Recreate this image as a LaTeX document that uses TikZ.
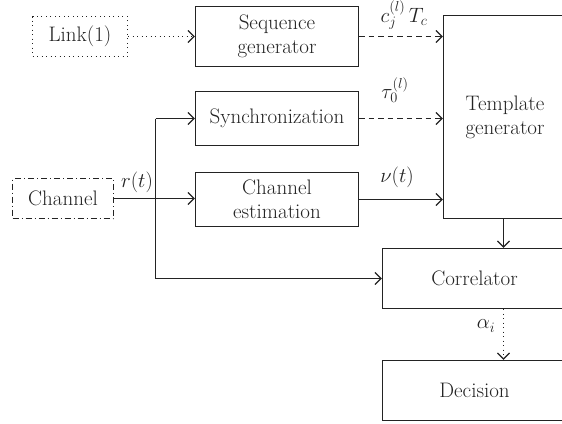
\documentclass[tikz,border=0pt]{standalone}
\usetikzlibrary{arrows.meta}
\definecolor{ink}{RGB}{35,35,35}
\begin{document}
\begin{tikzpicture}[x=1pt,y=-1pt,
  font=\fontsize{21}{24}\selectfont, color=ink,
  every node/.style={inner sep=0pt},
  blk/.style={draw, line width=1.4pt, align=center},
  conn/.style={line width=1.3pt, -{Straight Barb[length=6pt,width=12pt,line width=1.2pt]}},
  dotconn/.style={conn, dash pattern=on 1pt off 3.5pt},
  dashconn/.style={conn, dash pattern=on 5.5pt off 4pt},
  lbl/.style={font=\fontsize{20}{24}\selectfont}
]
\useasboundingbox (0,0) rectangle (562,423);
\clip (0,0) rectangle (562,423);
% boxes
\node[blk, dash pattern=on 1pt off 3.5pt, minimum width=95pt, minimum height=40pt] (link) at (80,36.5) {Link(1)};
\node[blk, dash pattern=on 6pt off 3pt on 1pt off 3pt, minimum width=101pt, minimum height=40pt] (chan) at (63,198.5) {Channel};
\node[blk, minimum width=163pt, minimum height=60pt] (seq) at (277,36.5) {Sequence\\generator};
\node[blk, minimum width=163pt, minimum height=54pt] (sync) at (277,118.5) {Synchronization};
\node[blk, minimum width=163pt, minimum height=54pt] (est) at (277,199.5) {Channel\\estimation};
\node[blk, minimum width=123pt, minimum height=203pt] (tmpl) at (505,117) {Template\\generator};
\node[blk, minimum width=184pt, minimum height=60pt] (corr) at (474.5,278.5) {Correlator};
\node[blk, minimum width=184pt, minimum height=60pt] (dec) at (474.5,390.5) {Decision};
% split coordinates
\coordinate (s1) at (155.5,118.5);
\coordinate (s2) at (155.5,278.5);
% connectors
\draw[dotconn] (link.east) -- (seq.west);
\draw[dashconn] (seq.east) -- (seq.east -| tmpl.west);
\draw[dashconn] (sync.east) -- (sync.east -| tmpl.west);
\draw[conn] (est.east) -- (est.east -| tmpl.west);
\draw[conn] (chan.east) -- (chan.east -| est.west);
\draw[line width=1.3pt] (s1) -- (s2);
\draw[conn] (s1) -- (sync.west);
\draw[conn] (s2) -- (corr.west);
\draw[conn] (tmpl.south -| 503.5,0) -- (corr.north -| 503.5,0);
\draw[dotconn] (corr.south -| 503.5,0) -- (dec.north -| 503.5,0);
% labels
\node[lbl] (lc) at (404,15) {$c_j^{(l)}\,T_c$};
\node[lbl] (lt) at (395,90) {$\tau_0^{(l)}$};
\node[lbl] (lv) at (397,177) {$\nu(t)$};
\node[lbl] (lr) at (137,182) {$r(t)$};
\node[lbl] (la) at (486,326) {$\alpha_i$};
\end{tikzpicture}
\end{document}
